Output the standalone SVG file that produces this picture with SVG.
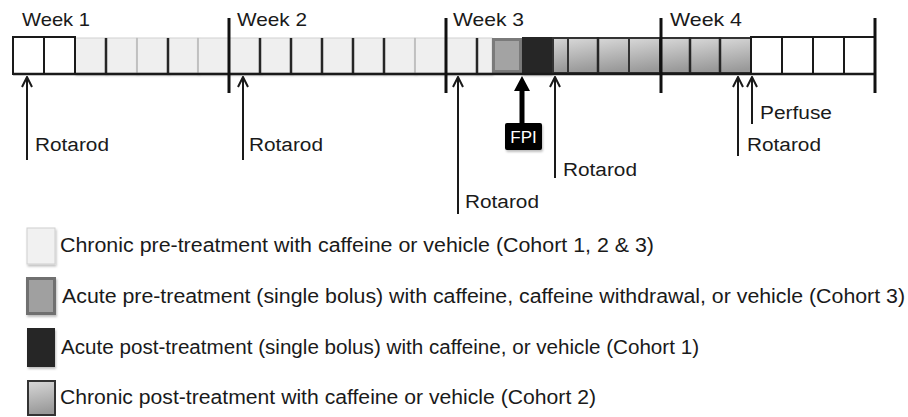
<svg xmlns="http://www.w3.org/2000/svg" width="908" height="417" viewBox="0 0 908 417">
<defs>
<style>
text{font-family:"Liberation Sans",Arial,sans-serif;fill:#1a1a1a}
.wk{font-size:18.5px}
.lbl{font-size:18px}
.leg{font-size:19.5px}
.white{fill:#fff;stroke:#1a1a1a;stroke-width:2}
.light{fill:#efefef;stroke:#d2d2d2;stroke-width:1;filter:url(#sh)}
.grad{fill:url(#g);stroke:#333;stroke-width:2}
.div{stroke:#262626;stroke-width:2.5}
.divl{stroke:#b8b8b8;stroke-width:1.5}
.wline{stroke:#111;stroke-width:3}
.arr{stroke:#1a1a1a;stroke-width:2;fill:none;marker-end:url(#ah)}
</style>
<linearGradient id="g" x1="0" y1="0" x2="0.15" y2="1">
<stop offset="0" stop-color="#d8d8d8"/>
<stop offset="1" stop-color="#999"/>
</linearGradient>
<filter id="sh" x="-20%" y="-20%" width="150%" height="150%">
<feDropShadow dx="1" dy="2" stdDeviation="1.2" flood-color="#000" flood-opacity="0.25"/>
</filter>
<marker id="ah" viewBox="0 0 12 12" refX="11" refY="6" markerWidth="12" markerHeight="12" markerUnits="userSpaceOnUse" orient="auto">
<path d="M1,1 L11,6 L1,11" fill="none" stroke="#1a1a1a" stroke-width="2"/>
</marker>
</defs>

<g id="week-labels">
<text class="wk" x="22" y="26" textLength="68" lengthAdjust="spacingAndGlyphs">Week 1</text>
<text class="wk" x="237" y="26" textLength="70" lengthAdjust="spacingAndGlyphs">Week 2</text>
<text class="wk" x="453" y="26" textLength="71" lengthAdjust="spacingAndGlyphs">Week 3</text>
<text class="wk" x="670" y="26" textLength="72" lengthAdjust="spacingAndGlyphs">Week 4</text>
</g>

<g id="timeline">
<rect class="light" x="75" y="38" width="31" height="35"/>
<rect class="light" x="106" y="38" width="31" height="35"/>
<rect class="light" x="137" y="38" width="31" height="35"/>
<rect class="light" x="168" y="38" width="30" height="35"/>
<rect class="light" x="198" y="38" width="31" height="35"/>
<rect class="light" x="229" y="38" width="31" height="35"/>
<rect class="light" x="260" y="38" width="31" height="35"/>
<rect class="light" x="291" y="38" width="31" height="35"/>
<rect class="light" x="322" y="38" width="31" height="35"/>
<rect class="light" x="353" y="38" width="31" height="35"/>
<rect class="light" x="384" y="38" width="31" height="35"/>
<rect class="light" x="415" y="38" width="31" height="35"/>
<rect class="light" x="446" y="38" width="31" height="35"/>
<rect class="light" x="477" y="38" width="15" height="35"/>
<rect x="493.5" y="39.5" width="27" height="32" fill="#a3a3a3" stroke="#7a7a7a" stroke-width="3"/>
<rect x="522" y="37" width="30" height="37" fill="#262626" filter="url(#sh)"/>
<rect class="grad" x="553" y="38" width="15" height="35"/>
<rect class="grad" x="568" y="38" width="30" height="35"/>
<rect class="grad" x="598" y="38" width="31" height="35"/>
<rect class="grad" x="629" y="38" width="31" height="35"/>
<rect class="grad" x="660" y="38" width="30" height="35"/>
<rect class="grad" x="690" y="38" width="30" height="35"/>
<rect class="grad" x="720" y="38" width="31" height="35"/>
<rect class="white" x="13" y="37" width="31" height="37"/>
<rect class="white" x="44" y="37" width="31" height="37"/>
<rect class="white" x="751" y="37" width="31" height="37"/>
<rect class="white" x="782" y="37" width="31" height="37"/>
<rect class="white" x="813" y="37" width="31" height="37"/>
<rect class="white" x="844" y="37" width="31" height="37"/>
<line class="div" x1="106" y1="38" x2="106" y2="74"/>
<line class="divl" x1="137" y1="38" x2="137" y2="73"/>
<line class="div" x1="168" y1="38" x2="168" y2="74"/>
<line class="divl" x1="198" y1="38" x2="198" y2="73"/>
<line class="div" x1="260" y1="38" x2="260" y2="74"/>
<line class="div" x1="291" y1="38" x2="291" y2="74"/>
<line class="div" x1="322" y1="38" x2="322" y2="74"/>
<line class="div" x1="353" y1="38" x2="353" y2="74"/>
<line class="div" x1="384" y1="38" x2="384" y2="74"/>
<line class="divl" x1="415" y1="38" x2="415" y2="73"/>
<line class="div" x1="477" y1="38" x2="477" y2="74"/>
<line class="div" x1="598" y1="37" x2="598" y2="74"/>
<line class="div" x1="690" y1="37" x2="690" y2="74"/>
<line class="div" x1="720" y1="37" x2="720" y2="74"/>
<line x1="13" y1="74" x2="875" y2="74" stroke="#1a1a1a" stroke-width="2.5"/>
<line class="wline" x1="229" y1="18" x2="229" y2="93"/>
<line class="wline" x1="446" y1="18" x2="446" y2="93"/>
<line class="wline" x1="661" y1="18" x2="661" y2="93"/>
<line class="wline" x1="875" y1="18" x2="875" y2="93"/>
</g>

<g id="connectors">
<line class="arr" x1="27" y1="160" x2="27" y2="77"/>
<line class="arr" x1="243" y1="160" x2="243" y2="77"/>
<line class="arr" x1="458" y1="214" x2="458" y2="77"/>
<line class="arr" x1="555" y1="178" x2="555" y2="77"/>
<line class="arr" x1="738" y1="156" x2="738" y2="77"/>
<line class="arr" x1="752" y1="124" x2="752" y2="77"/>
<line x1="522" y1="124" x2="522" y2="88" stroke="#000" stroke-width="5"/>
<polygon points="522,76 514,91 530,91" fill="#000"/>
</g>

<g id="rotarod-1"><text class="lbl" x="35" y="151" textLength="74" lengthAdjust="spacingAndGlyphs">Rotarod</text></g>
<g id="rotarod-2"><text class="lbl" x="249" y="151" textLength="74" lengthAdjust="spacingAndGlyphs">Rotarod</text></g>
<g id="rotarod-3"><text class="lbl" x="465" y="208" textLength="74" lengthAdjust="spacingAndGlyphs">Rotarod</text></g>
<g id="rotarod-4"><text class="lbl" x="563" y="176" textLength="74" lengthAdjust="spacingAndGlyphs">Rotarod</text></g>
<g id="rotarod-5"><text class="lbl" x="747" y="151" textLength="74" lengthAdjust="spacingAndGlyphs">Rotarod</text></g>
<g id="perfuse"><text class="lbl" x="760" y="119" textLength="72" lengthAdjust="spacingAndGlyphs">Perfuse</text></g>
<g id="fpi">
<rect x="505" y="123" width="37" height="27" rx="2" fill="#000" filter="url(#sh)"/>
<text x="523.5" y="143" text-anchor="middle" style="font-size:17px;fill:#fff">FPI</text>
</g>

<g id="legend-1">
<rect x="27" y="228" width="28" height="36" fill="#f1f1f1" stroke="#cfcfcf" stroke-width="1" filter="url(#sh)"/>
<text class="leg" x="60" y="252" textLength="594" lengthAdjust="spacingAndGlyphs">Chronic pre-treatment with caffeine or vehicle (Cohort 1, 2 &amp; 3)</text>
</g>
<g id="legend-2">
<rect x="27.5" y="278.5" width="27" height="35" fill="#a0a0a0" stroke="#707070" stroke-width="3" filter="url(#sh)"/>
<text class="leg" x="62" y="303" textLength="843" lengthAdjust="spacingAndGlyphs">Acute pre-treatment (single bolus) with caffeine, caffeine withdrawal, or vehicle (Cohort 3)</text>
</g>
<g id="legend-3">
<rect x="27" y="328" width="28" height="39" fill="#262626" filter="url(#sh)"/>
<text class="leg" x="61" y="354" textLength="638" lengthAdjust="spacingAndGlyphs">Acute post-treatment (single bolus) with caffeine, or vehicle (Cohort 1)</text>
</g>
<g id="legend-4">
<rect x="28" y="381" width="27" height="34" fill="url(#g)" stroke="#333" stroke-width="2"/>
<text class="leg" x="60" y="404" textLength="536" lengthAdjust="spacingAndGlyphs">Chronic post-treatment with caffeine or vehicle (Cohort 2)</text>
</g>
</svg>
